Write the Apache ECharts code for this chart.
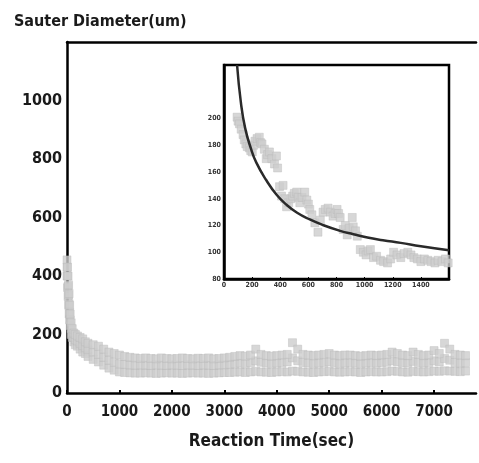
<!DOCTYPE html>
<html>
<head>
<meta charset="utf-8">
<script src="https://cdn.jsdelivr.net/npm/echarts@6/dist/echarts.min.js"></script>
<style>
  html, body { margin: 0; padding: 0; background: #fff; }
  #chart { width: 479px; height: 463px; }
</style>
</head>
<body>
<div id="chart"></div>
<script>
// main plot: measured diameter band (upper / middle / lower readings)
var mainTime = [0, 10, 20, 30, 40, 50, 60, 80, 100, 130, 160, 200, 250, 300, 350, 400, 500, 600, 700, 800, 900,
  1000, 1100, 1200, 1300, 1400, 1500, 1600, 1700, 1800, 1900, 2000, 2100, 2200, 2300, 2400, 2500, 2600, 2700, 2800, 2900,
  3000, 3100, 3200, 3300, 3400, 3500, 3600, 3700, 3800, 3900, 4000, 4100, 4200, 4300, 4400, 4500, 4600, 4700, 4800, 4900,
  5000, 5100, 5200, 5300, 5400, 5500, 5600, 5700, 5800, 5900, 6000, 6100, 6200, 6300, 6400, 6500, 6600, 6700, 6800, 6900,
  7000, 7100, 7200, 7300, 7400, 7500, 7600];
var mainHigh = [455, 430, 400, 370, 340, 300, 270, 240, 220, 205, 200, 195, 190, 185, 175, 170, 165, 160, 150, 140, 135,
  130, 125, 122, 120, 118, 120, 118, 117, 120, 118, 117, 118, 120, 118, 117, 119, 118, 120, 117, 118,
  120, 122, 125, 128, 126, 130, 150, 132, 128, 126, 128, 130, 132, 172, 150, 132, 130, 128, 130, 132,
  135, 130, 128, 130, 130, 128, 126, 128, 130, 128, 130, 132, 140, 135, 130, 128, 140, 132, 128, 130,
  145, 135, 170, 150, 132, 130, 128];
var mainMid = [430, 400, 365, 335, 305, 275, 250, 220, 205, 190, 182, 178, 170, 162, 155, 148, 140, 132, 122, 112, 105,
  100, 98, 96, 95, 96, 95, 94, 96, 95, 94, 96, 95, 94, 96, 95, 94, 96, 95, 94, 96,
  96, 98, 100, 102, 100, 104, 110, 105, 102, 100, 102, 104, 106, 120, 110, 104, 102, 100, 102, 104,
  106, 103, 100, 102, 104, 102, 100, 102, 104, 102, 104, 105, 110, 106, 103, 102, 108, 104, 102, 104,
  110, 106, 118, 112, 104, 102, 104];
var mainLow = [400, 360, 330, 300, 270, 250, 230, 200, 190, 175, 165, 160, 150, 140, 135, 125, 115, 106, 95, 85, 78,
  72, 70, 69, 68, 68, 69, 68, 67, 68, 69, 68, 68, 67, 68, 69, 68, 68, 67, 68, 69,
  70, 70, 71, 72, 70, 72, 74, 72, 71, 70, 72, 73, 72, 75, 74, 72, 71, 70, 72, 73,
  74, 72, 71, 72, 73, 72, 70, 72, 73, 72, 72, 73, 75, 74, 72, 71, 74, 73, 72, 73,
  75, 74, 76, 75, 74, 73, 75];

// inset: first 1600 s, measured points and fitted curve
var insetTime = [93, 100, 110, 122, 135, 144, 155, 165, 180, 190, 201, 210, 220, 235, 251, 260, 270, 287, 300, 310, 323, 340, 359, 373, 381,
  395, 409, 420, 432, 445, 460, 475, 488, 500, 517, 528, 539, 555, 574, 589, 600, 610, 625, 646, 668, 685, 704, 720, 740, 758, 775, 790,
  804, 815, 826, 847, 862, 876, 890, 912, 919, 935, 948, 969, 991, 1010, 1025, 1041, 1063, 1085, 1113, 1135, 1163, 1185, 1206, 1230,
  1257, 1280, 1307, 1330, 1350, 1375, 1400, 1425, 1450, 1472, 1500, 1522, 1550, 1575, 1594];
var insetValue = [201, 198, 196, 192, 188, 184, 181, 179, 178, 176, 175, 180, 183, 185, 186, 182, 181, 177, 170, 173, 175, 170, 166, 172, 163,
  149, 142, 150, 140, 134, 137, 140, 142, 144, 145, 141, 137, 141, 145, 139, 136, 132, 128, 122, 115, 124, 130, 132, 133, 130, 127, 129,
  132, 129, 126, 117, 120, 113, 118, 126, 119, 116, 112, 102, 100, 98, 101, 102, 96, 97, 94, 93, 92, 95, 100, 98,
  96, 99, 100, 98, 96, 95, 93, 95, 94, 93, 92, 94, 93, 95, 92];
var fitTime = [93, 120, 150, 190, 230, 300, 374, 445, 520, 610, 700, 826, 920, 1020, 1130, 1257, 1400, 1600];
var fitValue = [240, 212, 193, 178, 167, 154, 143, 135.5, 129.5, 124.5, 120.5, 116, 113.5, 111, 109, 107, 104.5, 101.5];

function pairs(xs, ys) {
  return xs.map(function (x, i) { return [x, ys[i]]; });
}
function plain(v) { return String(v); } // no thousands separator

var font = '"DejaVu Sans Condensed", "Liberation Sans", sans-serif';
var boxStyle = { color: '#000', width: 2.5 };
var dotStyle = { color: '#cdcdcd', borderColor: '#b8b8b8', borderWidth: 0.5 };

var chart = echarts.init(document.getElementById('chart'));
var option = {
  backgroundColor: '#fff',
  animation: false,
  title: {
    text: 'Sauter Diameter(um)',
    left: 9,
    top: 9,
    textStyle: { fontFamily: font, fontWeight: 'bold', fontSize: 16, color: '#1a1a1a' }
  },
  grid: [
    { left: 67, top: 42, right: 3, bottom: 70 },
    { left: 224, top: 65, right: 30, bottom: 184, show: true, backgroundColor: '#fff', borderColor: '#000', borderWidth: 2.5, z: 5 }
  ],
  xAxis: [
    {
      gridIndex: 0, type: 'value', min: 0, max: 7800, interval: 1000,
      name: 'Reaction Time(sec)', nameLocation: 'middle', nameGap: 40,
      nameTextStyle: { fontFamily: font, fontWeight: 'bold', fontSize: 17, color: '#1a1a1a' },
      axisLine: { lineStyle: boxStyle },
      axisTick: { inside: true, length: 3, lineStyle: { color: '#000', width: 2 } },
      axisLabel: { showMaxLabel: false, margin: 12, formatter: plain, fontFamily: font, fontWeight: 'bold', fontSize: 15, color: '#1a1a1a' },
      splitLine: { show: false }
    },
    {
      // top border of the main plot
      gridIndex: 0, type: 'value', position: 'top', min: 0, max: 7800,
      axisLine: { lineStyle: boxStyle },
      axisTick: { show: false }, axisLabel: { show: false }, splitLine: { show: false }
    },
    {
      gridIndex: 1, type: 'value', min: 0, max: 1600, interval: 200, z: 6,
      axisLine: { lineStyle: boxStyle },
      axisTick: { inside: true, length: 2, lineStyle: { color: '#000' } },
      axisLabel: { showMaxLabel: false, margin: 3, formatter: plain, fontFamily: font, fontWeight: 'bold', fontSize: 7, color: '#333' },
      splitLine: { show: false }
    }
  ],
  yAxis: [
    {
      gridIndex: 0, type: 'value', min: 0, max: 1200, interval: 200,
      axisLine: { show: true, lineStyle: boxStyle },
      axisTick: { show: false },
      axisLabel: { showMaxLabel: false, margin: 5, formatter: plain, fontFamily: font, fontWeight: 'bold', fontSize: 16, color: '#1a1a1a' },
      splitLine: { show: false }
    },
    {
      gridIndex: 1, type: 'value', min: 80, max: 240, interval: 20, z: 6,
      axisLine: { show: true, lineStyle: boxStyle },
      axisTick: { show: false },
      axisLabel: {
        margin: 3, fontFamily: font, fontWeight: 'bold', fontSize: 7, color: '#333',
        formatter: function (v) { return v > 200 ? '' : String(v); }
      },
      splitLine: { show: false }
    }
  ],
  series: [
    { type: 'scatter', xAxisIndex: 0, yAxisIndex: 0, symbol: 'rect', symbolSize: 8, itemStyle: dotStyle, data: pairs(mainTime, mainLow) },
    { type: 'scatter', xAxisIndex: 0, yAxisIndex: 0, symbol: 'rect', symbolSize: 8, itemStyle: dotStyle, data: pairs(mainTime, mainMid) },
    { type: 'scatter', xAxisIndex: 0, yAxisIndex: 0, symbol: 'rect', symbolSize: 8, itemStyle: dotStyle, data: pairs(mainTime, mainHigh) },
    { type: 'scatter', xAxisIndex: 2, yAxisIndex: 1, symbol: 'rect', symbolSize: 8, z: 7, itemStyle: dotStyle, data: pairs(insetTime, insetValue) },
    {
      type: 'line', xAxisIndex: 2, yAxisIndex: 1, smooth: true, symbol: 'none', z: 8, clip: true,
      lineStyle: { color: '#2a2a2a', width: 2.5 },
      data: pairs(fitTime, fitValue)
    }
  ]
};
chart.setOption(option);
</script>
</body>
</html>
